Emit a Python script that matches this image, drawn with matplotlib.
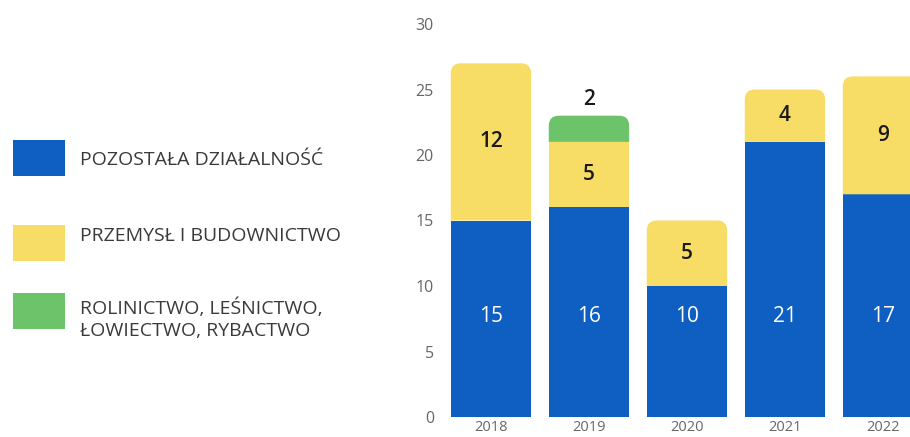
import matplotlib.pyplot as plt
from matplotlib.path import Path
from matplotlib.patches import PathPatch, Rectangle

# data
years = ["2018", "2019", "2020", "2021", "2022"]
pozostala = [15, 16, 10, 21, 17]
przemysl = [12, 5, 5, 4, 9]
rolnictwo = [0, 2, 0, 0, 0]

labels = ["POZOSTAŁA DZIAŁALNOŚĆ", "PRZEMYSŁ I BUDOWNICTWO",
          "ROLINICTWO, LEŚNICTWO,\nŁOWIECTWO, RYBACTWO"]
colors = ["#0f5fc3", "#f7dd66", "#6cc36a"]

W, H, DPI = 910, 437, 100
plt.rcParams['font.family'] = ['Open Sans', 'DejaVu Sans']

fig = plt.figure(figsize=(W / DPI, H / DPI), dpi=DPI)
ax_l, ax_b = 445, 20  # axes left / bottom in pixels
ax = fig.add_axes([ax_l / W, ax_b / H, (W - ax_l) / W, 393 / H])
ax.set_xlim(-0.469, 4.276)
ax.set_ylim(0, 30)
fig.canvas.draw()


def round_top(ax, rect, r_px=10):
    """swap a bar rectangle for one with rounded top corners"""
    x0, y0 = rect.get_x(), rect.get_y()
    x1, y1 = x0 + rect.get_width(), y0 + rect.get_height()
    bb = ax.get_window_extent()
    rx = r_px * (ax.get_xlim()[1] - ax.get_xlim()[0]) / bb.width
    ry = r_px * (ax.get_ylim()[1] - ax.get_ylim()[0]) / bb.height
    verts = [(x0, y0), (x1, y0), (x1, y1 - ry), (x1, y1), (x1 - rx, y1),
             (x0 + rx, y1), (x0, y1), (x0, y1 - ry), (x0, y0)]
    codes = [Path.MOVETO, Path.LINETO, Path.LINETO, Path.CURVE3, Path.CURVE3,
             Path.LINETO, Path.CURVE3, Path.CURVE3, Path.CLOSEPOLY]
    ax.add_patch(PathPatch(Path(verts, codes), facecolor=rect.get_facecolor(),
                           edgecolor="none", lw=0))
    rect.remove()


x = list(range(len(years)))
width = 0.82
series = [pozostala, przemysl, rolnictwo]
bottoms = [0] * len(years)
bars = []
for vals, c in zip(series, colors):
    b = ax.bar(x, vals, width, bottom=bottoms, color=c, linewidth=0)
    bars.append(b)
    bottoms = [bt + v for bt, v in zip(bottoms, vals)]

# round the top-most segment of each stack
for i in x:
    top = max(k for k in range(len(series)) if series[k][i] > 0)
    round_top(ax, bars[top][i])

# value labels
for i in x:
    ax.text(i, 7.7, str(pozostala[i]), ha="center", va="center",
            color="white", fontsize=15)
    if przemysl[i]:
        ax.text(i, pozostala[i] + przemysl[i] / 2, str(przemysl[i]),
                ha="center", va="center", color="#1a1a1a", fontsize=15,
                fontweight="semibold")
    if rolnictwo[i]:
        ax.text(i, bottoms[i] + 1.2, str(rolnictwo[i]), ha="center",
                va="center", color="#1a1a1a", fontsize=15,
                fontweight="semibold")

ax.set_yticks(range(0, 31, 5))
ax.set_xticks(x)
ax.set_xticklabels(years)
ax.tick_params(length=0, colors="#666666", labelsize=11.5)
ax.tick_params(axis="y", pad=8)
ax.tick_params(axis="x", pad=2, labelsize=10.5)
for s in ax.spines.values():
    s.set_visible(False)

# legend drawn by hand on the left
sq_y = [158, 243, 311]
txt_y = [160, 236, 319]
for c, lab, sy, ty in zip(colors, labels, sq_y, txt_y):
    fig.patches.append(Rectangle((13 / W, 1 - (sy + 18) / H), 52 / W, 36 / H,
                                 transform=fig.transFigure, facecolor=c,
                                 edgecolor="none"))
    fig.text(80 / W, 1 - ty / H, lab, ha="left", va="center", fontsize=14,
             color="#3a3a3a", linespacing=1.3)

fig.savefig("out.png", dpi=DPI)
